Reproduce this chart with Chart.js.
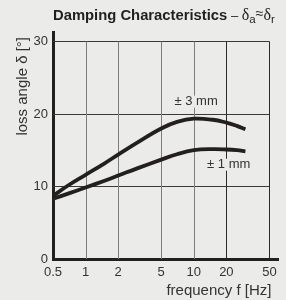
<!DOCTYPE html>
<html>
<head>
<meta charset="utf-8">
<script src="https://cdn.jsdelivr.net/npm/chart.js@4.4.1/dist/chart.umd.min.js"></script>
<style>
  html, body { margin: 0; padding: 0; background: #ebebea; }
  #wrap { width: 286px; height: 300px; position: relative; }
</style>
</head>
<body>
<div id="wrap"><canvas id="mycanvas"></canvas></div>
<script>
// values
var freq = [0.5, 0.7, 1, 1.5, 2, 3, 5, 7, 10, 15, 20, 25, 30];
var amp3mm = [8.7, 10.2, 11.6, 13.2, 14.4, 16.05, 18.0, 18.9, 19.35, 19.2, 18.8, 18.35, 17.9];
var amp1mm = [8.3, 9.05, 9.85, 10.8, 11.5, 12.5, 13.7, 14.45, 15.0, 15.15, 15.1, 15.0, 14.85];
var xTicks = [0.5, 1, 2, 5, 10, 20, 50];
var yTicks = [0, 10, 20, 30];
var seriesLabels = ["\u00b1 3 mm", "\u00b1 1 mm"];
// where the curve labels sit, in data units
var labelPos = [{x: 10.5, y: 21.7}, {x: 21, y: 13.0}];

var bg = "#ebebea";
var ink = "#231f20";
var sans = "'Liberation Sans', Arial, sans-serif";
var serif = "'Liberation Serif', 'Times New Roman', serif";

var gridPlugin = {
  id: "grid",
  beforeDatasetsDraw: function(chart) {
    var c = chart.ctx, xs = chart.scales.x, ys = chart.scales.y;
    var x0 = xs.getPixelForValue(0.5), x1 = xs.getPixelForValue(50);
    var yb = ys.getPixelForValue(0), yt = ys.getPixelForValue(30);
    c.save();
    c.lineWidth = 1;
    c.strokeStyle = "#3a3a3a";
    yTicks.forEach(function(v) {
      if (v === 0) return;
      var y = Math.round(ys.getPixelForValue(v)) + 0.5;
      c.beginPath(); c.moveTo(x0, y); c.lineTo(x1, y); c.stroke();
    });
    xTicks.forEach(function(v) {
      if (v === 0.5) return;
      c.strokeStyle = (v >= 20) ? "#2a2a2a" : "#7d7d7d";
      var x = Math.round(xs.getPixelForValue(v)) + 0.5;
      c.beginPath(); c.moveTo(x, yt); c.lineTo(x, yb); c.stroke();
    });
    c.restore();
  },
  afterDatasetsDraw: function(chart) {
    var c = chart.ctx, xs = chart.scales.x, ys = chart.scales.y;
    c.save();
    c.font = "13px " + sans;
    c.textAlign = "center";
    c.textBaseline = "middle";
    seriesLabels.forEach(function(t, i) {
      var px = xs.getPixelForValue(labelPos[i].x), py = ys.getPixelForValue(labelPos[i].y);
      var w = c.measureText(t).width;
      c.fillStyle = bg;
      c.fillRect(px - w / 2 - 1, py - 6, w + 2, 12);
      c.fillStyle = "#333";
      c.fillText(t, px, py);
    });
    c.restore();
  },
  afterDraw: function(chart) {
    var c = chart.ctx, a = chart.chartArea;
    c.save();
    c.fillStyle = ink;
    c.textBaseline = "alphabetic";
    c.textAlign = "left";
    // title, drawn piece by piece for the subscripts
    var x = a.left, y = 20;
    c.font = "bold 14.8px " + sans;
    c.fillText("Damping Characteristics", x, y);
    x += c.measureText("Damping Characteristics").width;
    c.font = "13px " + sans;
    c.fillText(" \u2013 ", x, y);
    x += c.measureText(" \u2013 ").width;
    c.font = "16px " + serif;
    c.fillText("\u03b4", x, y);
    x += c.measureText("\u03b4").width;
    c.font = "11.5px " + sans;
    c.fillText("a", x, y + 3);
    x += c.measureText("a").width;
    c.font = "14px " + sans;
    c.fillText("\u2248", x, y - 2);
    x += c.measureText("\u2248").width;
    c.font = "16px " + serif;
    c.fillText("\u03b4", x, y);
    x += c.measureText("\u03b4").width;
    c.font = "11.5px " + sans;
    c.fillText("r", x, y + 3);
    // axis titles
    c.fillStyle = "#333";
    c.font = "15px " + sans;
    c.textAlign = "right";
    c.fillText("frequency f [Hz]", chart.scales.x.getPixelForValue(50) + 2, 295);
    c.translate(27, a.top + 5);
    c.rotate(-Math.PI / 2);
    c.textAlign = "right";
    c.fillText("loss angle \u03b4 [\u00b0]", 0, 0);
    c.restore();
  }
};

var chartdata = {
  labels: freq,
  datasets: [
    {
      label: seriesLabels[0],
      data: amp3mm,
      borderColor: ink,
      borderWidth: 3.8,
      pointRadius: 0,
      fill: false,
      tension: 0.4,
      borderCapStyle: "butt"
    },
    {
      label: seriesLabels[1],
      data: amp1mm,
      borderColor: ink,
      borderWidth: 3.8,
      pointRadius: 0,
      fill: false,
      tension: 0.4,
      borderCapStyle: "butt"
    }
  ]
};

var ctx = document.getElementById("mycanvas");
var LineGraph = new Chart(ctx, {
  type: "line",
  data: chartdata,
  plugins: [gridPlugin],
  options: {
    responsive: true,
    maintainAspectRatio: false,
    animation: false,
    layout: { padding: { left: 33, right: 8, top: 32, bottom: 21 } },
    plugins: { legend: { display: false }, tooltip: { enabled: false } },
    scales: {
      x: {
        type: "logarithmic",
        min: 0.5,
        max: 60,
        afterBuildTicks: function(s) { s.ticks = xTicks.map(function(v) { return {value: v}; }); },
        afterFit: function(s) { s.height = 20; },
        grid: { display: false, drawTicks: false },
        border: { display: true, color: ink, width: 3 },
        ticks: {
          autoSkip: false,
          maxRotation: 0,
          padding: 6,
          color: "#333",
          font: { family: sans, size: 13 },
          callback: function(v) { return String(v); }
        }
      },
      y: {
        min: 0,
        max: 31.3,
        afterBuildTicks: function(s) { s.ticks = yTicks.map(function(v) { return {value: v}; }); },
        afterFit: function(s) { s.width = 20; },
        grid: { display: false, drawTicks: false },
        border: { display: true, color: ink, width: 3 },
        ticks: {
          padding: 5,
          color: "#333",
          font: { family: sans, size: 13 }
        }
      }
    }
  }
});
</script>
</body>
</html>
